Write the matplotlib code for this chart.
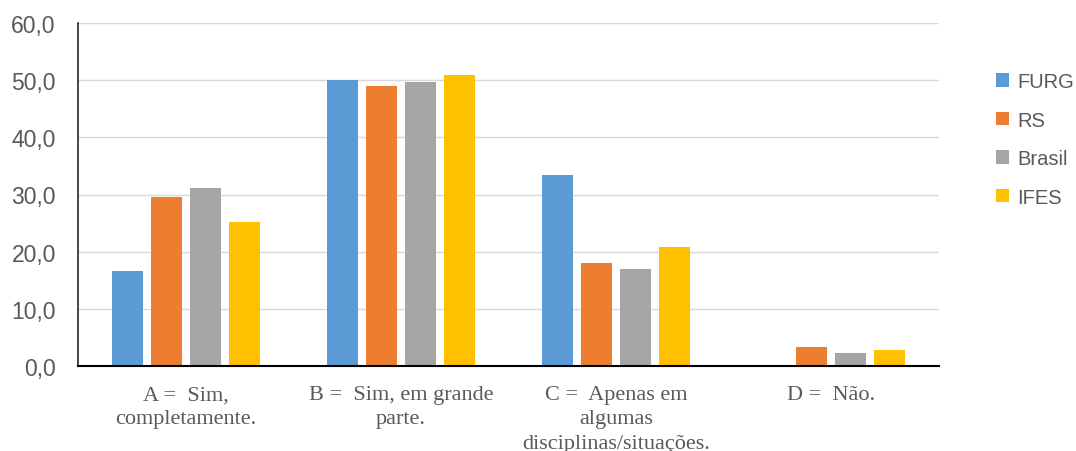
import matplotlib
matplotlib.use("Agg")
import matplotlib.pyplot as plt
import numpy as np
from matplotlib.patches import Patch

categories = ["A =  Sim,\ncompletamente.",
              "B =  Sim, em grande\nparte.",
              "C =  Apenas em\nalgumas\ndisciplinas/situações.",
              "D =  Não."]
series_names = ["FURG", "RS", "Brasil", "IFES"]
furg = [16.7, 50.1, 33.4, 0.0]
rs = [29.5, 48.9, 18.1, 3.4]
brasil = [31.1, 49.6, 17.0, 2.3]
ifes = [25.2, 50.9, 20.8, 2.8]
colors = ["#5B9BD5", "#ED7D31", "#A5A5A5", "#FFC000"]
yticks = [0, 10, 20, 30, 40, 50, 60]
ytick_labels = ["0,0", "10,0", "20,0", "30,0", "40,0", "50,0", "60,0"]

fig = plt.figure(figsize=(10.76, 4.52), dpi=100)
ax = fig.add_axes([78/1076, 1-367/452, (939-78)/1076, (367-24)/452])

x = np.arange(len(categories))
width = 0.144
pitch = 0.181
for i, (vals, c) in enumerate(zip([furg, rs, brasil, ifes], colors)):
    ax.bar(x + (i - 1.5) * pitch, vals, width, color=c, zorder=3)

ax.set_xlim(-0.5, 3.5)
ax.set_ylim(0, 60)
ax.set_yticks(yticks)
ax.set_yticklabels(ytick_labels, fontfamily="Liberation Sans", fontsize=16.5, color="#595959")
ax.set_xticks(x)
ax.set_xticklabels(categories, fontfamily="Liberation Serif", fontsize=16, color="#595959",
                   linespacing=1.36, va="top")
ax.tick_params(axis="both", length=0)
ax.tick_params(axis="x", pad=14)
ax.tick_params(axis="y", pad=16)
ax.grid(axis="y", color="#D9D9D9", linewidth=1, zorder=0)
for s in ["top", "right"]:
    ax.spines[s].set_visible(False)
ax.spines["left"].set_color("#262626")
ax.spines["left"].set_linewidth(1.2)
ax.spines["bottom"].set_color("#000000")
ax.spines["bottom"].set_linewidth(1.5)
ax.spines["left"].set_zorder(4)
ax.spines["bottom"].set_zorder(4)

handles = [Patch(facecolor=c, edgecolor="none") for c in colors]
leg = fig.legend(handles, series_names, loc="upper left",
                 bbox_to_anchor=(996/1076, 1-73/452), frameon=False,
                 prop={"family": "Liberation Sans", "size": 14.5},
                 handlelength=0.65, handleheight=0.65, handletextpad=0.4,
                 labelspacing=0.97, borderaxespad=0, borderpad=0)
for t in leg.get_texts():
    t.set_color("#595959")

fig.savefig("out.png", dpi=100)
